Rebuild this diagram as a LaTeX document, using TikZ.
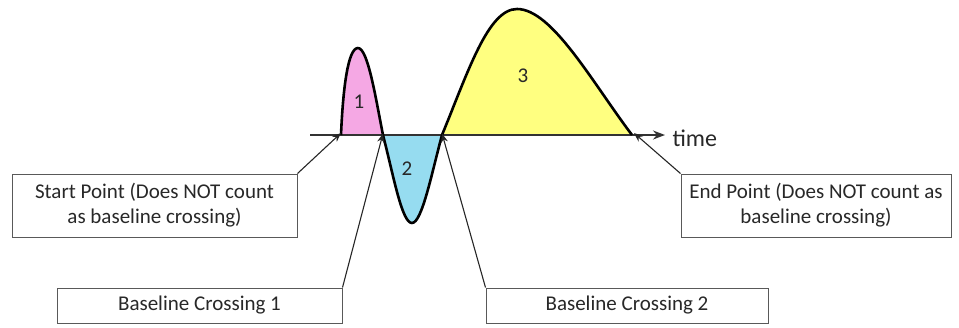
\documentclass[tikz,border=0pt]{standalone}
\usepackage{fontspec}
\setmainfont{Carlito}
\usetikzlibrary{arrows.meta}
\definecolor{pinkf}{RGB}{245,168,228}
\definecolor{bluef}{RGB}{150,220,240}
\definecolor{yellowf}{RGB}{255,255,128}
\definecolor{txt}{RGB}{40,40,40}
\tikzset{
  box/.style={draw=black!65, line width=1pt, fill=white, align=center, inner sep=0pt,
    font=\fontsize{21}{25}\selectfont, text=txt},
  curve/.style={line width=2.6pt, line join=round},
  pointer/.style={draw=black!85, line width=1.1pt, -{Stealth[length=9pt,width=7pt]}},
  num/.style={font=\fontsize{21}{24}\selectfont, text=txt},
}
\begin{document}
\begin{tikzpicture}[x=1pt,y=-1pt]
\useasboundingbox (0,0) rectangle (959,327);
% key points on the baseline
\coordinate (sp) at (341,135);
\coordinate (c1) at (383,135);
\coordinate (c2) at (442,135);
\coordinate (ep) at (632,135);
\coordinate (ax0) at (310,135);
\coordinate (ax1) at (665,135);
% fills
\fill[pinkf] (sp) .. controls (343,88) and (348,48) .. (358,48) .. controls (368,48) and (376,100) .. (c1) -- cycle;
\fill[bluef] (c1) .. controls (394,178) and (402,223) .. (412,223) .. controls (422,223) and (432,172) .. (c2) -- cycle;
\fill[yellowf] (c2) .. controls (468,72) and (488,9) .. (517,9) .. controls (552,9) and (592,82) .. (ep) -- cycle;
% axis
\draw[line width=1.6pt, black!80, -{Stealth[length=12pt,width=9pt]}] (ax0) -- (ax1);
\node[anchor=west, font=\fontsize{24}{26}\selectfont, text=txt] (time) at (669,138) {time};
% curves
\draw[curve] (sp) .. controls (343,88) and (348,48) .. (358,48) .. controls (368,48) and (376,100) .. (c1);
\draw[curve] (c1) .. controls (394,178) and (402,223) .. (412,223) .. controls (422,223) and (432,172) .. (c2);
\draw[curve] (c2) .. controls (468,72) and (488,9) .. (517,9) .. controls (552,9) and (592,82) .. (ep);
% numbers
\node[num] (n1) at (359,102) {1};
\node[num] (n2) at (407,169) {2};
\node[num] (n3) at (523,76) {3};
% boxes
\node[box, minimum width=285pt, minimum height=63pt] (start) at (154.5,205.5)
  {Start Point (Does NOT count\\as baseline crossing)};
\node[box, minimum width=270pt, minimum height=63pt] (end) at (816,205.5)
  {End Point (Does NOT count as\\baseline crossing)};
\node[box, minimum width=285pt, minimum height=35pt] (bc1) at (199.5,305.5)
  {Baseline Crossing 1};
\node[box, minimum width=282pt, minimum height=35pt] (bc2) at (627,305.5)
  {Baseline Crossing 2};
% pointers
\draw[pointer] (start.north east) -- ([yshift=2pt]sp);
\draw[pointer] (end.north west) -- ([shift={(2pt,2pt)}]ep);
\draw[pointer] (bc1.north east) -- ([yshift=1.5pt]c1);
\draw[pointer] (bc2.north west) -- ([yshift=1.5pt]c2);
\end{tikzpicture}
\end{document}
